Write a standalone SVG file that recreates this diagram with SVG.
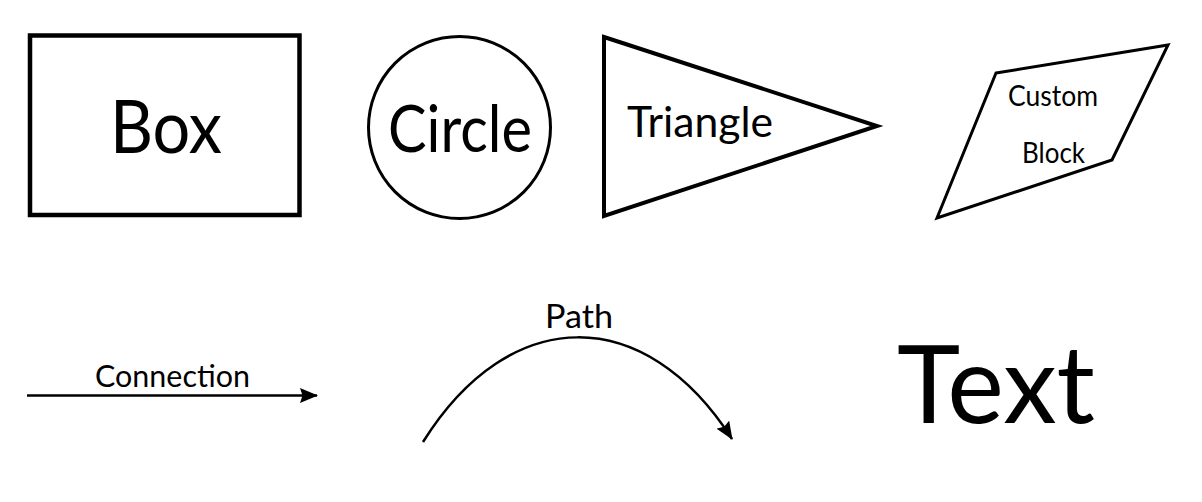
<svg xmlns="http://www.w3.org/2000/svg" width="1202" height="502" viewBox="0 0 1202 502">
<style>
text{font-family:Lato,"Liberation Sans",sans-serif;fill:#000}
.shape{fill:none;stroke:#000;stroke-linejoin:miter}
.conn{fill:none;stroke:#000;stroke-width:2.5}
</style>
<defs>
<marker id="arr" markerUnits="userSpaceOnUse" viewBox="0 0 18 15" refX="17" refY="7.5" markerWidth="18" markerHeight="15" orient="auto">
<path d="M0,0 L18,7.5 L0,15 L2.5,7.5 Z" fill="#000"/>
</marker>
</defs>
<rect width="1202" height="502" fill="#fff"/>
<g id="box">
<rect class="shape" x="30" y="35.5" width="269.5" height="179.5" stroke-width="4.5"/>
<text x="110" y="153" font-size="74" textLength="112" lengthAdjust="spacingAndGlyphs">Box</text>
</g>
<g id="circle">
<circle class="shape" cx="459.5" cy="127.5" r="91" stroke-width="3"/>
<text x="388" y="152" font-size="66" textLength="144" lengthAdjust="spacingAndGlyphs">Circle</text>
</g>
<g id="triangle">
<polygon class="shape" points="604,37 877,126 604,216" stroke-width="4"/>
<text x="627" y="137" font-size="42" textLength="146" lengthAdjust="spacingAndGlyphs">Triangle</text>
</g>
<g id="custom-block">
<polygon class="shape" points="996,73 1168,45 1112,160 937,218" stroke-width="3"/>
<text x="1008" y="105.5" font-size="28" textLength="90" lengthAdjust="spacingAndGlyphs">Custom</text>
<text x="1022" y="163" font-size="28" textLength="63" lengthAdjust="spacingAndGlyphs">Block</text>
</g>
<g id="connectors">
<g id="connection">
<line class="conn" x1="27" y1="395.5" x2="317" y2="395.5" marker-end="url(#arr)"/>
<text x="95" y="387" font-size="31" textLength="155" lengthAdjust="spacingAndGlyphs">Connection</text>
</g>
<g id="path">
<path class="conn" d="M423,442 C510,303 645,303 732,439" stroke-width="2.8" marker-end="url(#arr)"/>
<text x="545" y="328" font-size="32" textLength="68" lengthAdjust="spacingAndGlyphs">Path</text>
</g>
</g>
<g id="text">
<text x="897" y="423" font-size="109" textLength="198" lengthAdjust="spacingAndGlyphs">Text</text>
</g>
</svg>
